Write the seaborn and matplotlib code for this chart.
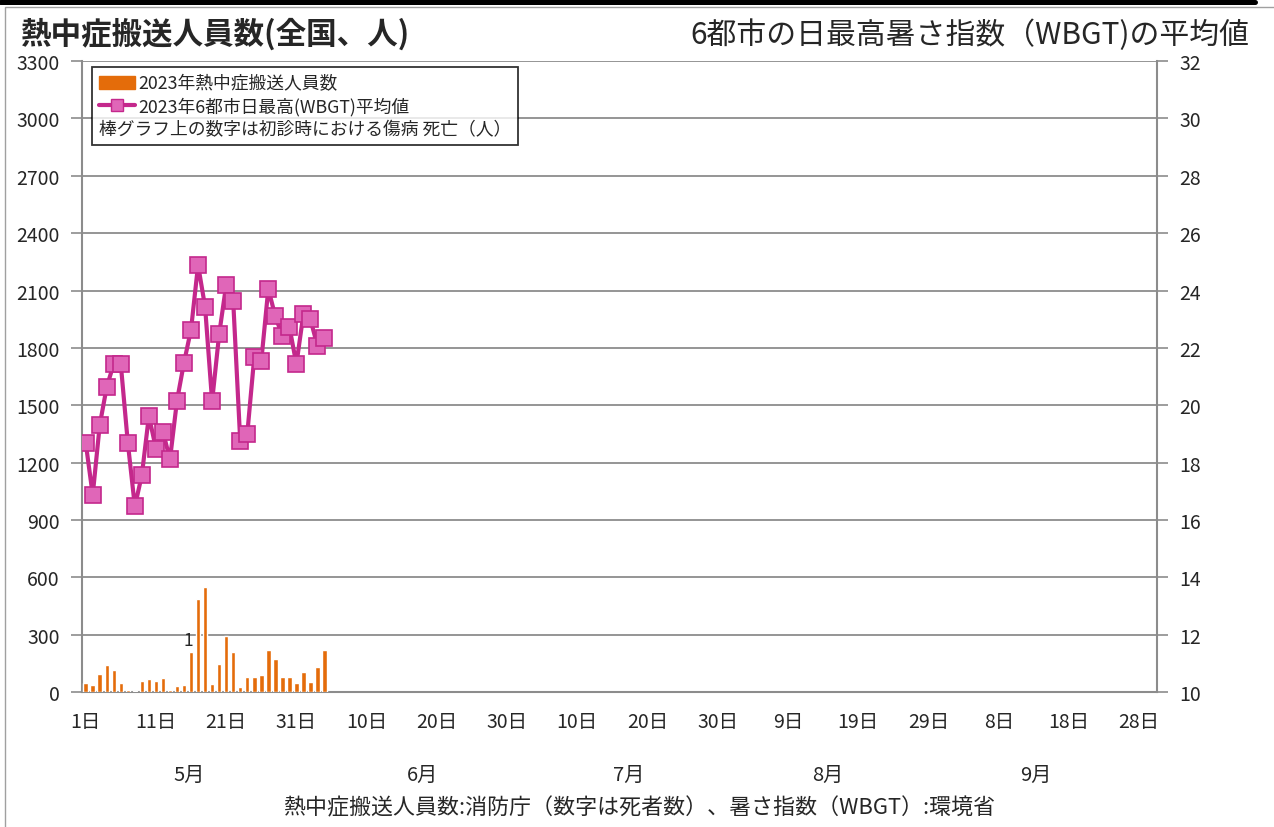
import numpy as np
import pandas as pd
import matplotlib
matplotlib.use("Agg")
import matplotlib.pyplot as plt
import seaborn as sns
from matplotlib.patches import Patch, Rectangle
from matplotlib.lines import Line2D

# daily values starting May 1 (data so far runs to Jun 4)
patients = [46, 37, 93, 142, 116, 46, 11, 7, 58, 69, 58, 72, 11, 32, 37,
            211, 487, 547, 40, 149, 295, 207, 28, 81, 77, 90, 221, 174, 77,
            81, 46, 107, 51, 130, 221]
wbgt = [18.70, 16.87, 19.31, 20.64, 21.45, 21.43, 18.69, 16.47, 17.57, 19.63,
        18.49, 19.08, 18.11, 20.16, 21.49, 22.64, 24.89, 23.43, 20.14, 22.47,
        24.19, 23.65, 18.77, 18.98, 21.68, 21.54, 24.06, 23.10, 22.42, 22.74,
        21.43, 23.18, 22.99, 22.07, 22.35]
deaths = {15: 1}  # day index -> deaths shown above bar
n_days = 153  # May 1 - Sep 30
day_labels = ["1日", "11日", "21日", "31日", "10日", "20日", "30日", "10日",
              "20日", "30日", "9日", "19日", "29日", "8日", "18日", "28日"]
months = ["5月", "6月", "7月", "8月", "9月"]
month_pos = [14.7, 47.9, 77.3, 105.6, 135.3]  # where the month names sit

BAR_C = "#E46C0A"
LINE_C = "#C4288C"
MARK_C = "#E066B8"
GRID_C = "#8C8C8C"

sns.set_style("white")
plt.rcParams["font.family"] = ["Noto Sans CJK JP", "DejaVu Sans"]

df = pd.DataFrame({"day": np.arange(len(patients)), "patients": patients, "wbgt": wbgt})

fig = plt.figure(figsize=(12.74, 8.28), dpi=100)
ax = fig.add_axes([0.0645, 0.163, 0.8435, 0.762])

sns.barplot(data=df, x="day", y="patients", native_scale=True, width=0.64,
            color=BAR_C, saturation=1, ax=ax, zorder=3)

for i, d in deaths.items():
    ax.annotate(str(d), (df["day"][i], df["patients"][i]), xytext=(-2, 2),
                textcoords="offset points", ha="center", va="bottom", fontsize=12.5)

ax.set_xlim(-0.5, n_days - 0.5)
ax.set_ylim(0, 3300)
ax.set_yticks(np.arange(0, 3301, 300))
ax.yaxis.grid(True, color=GRID_C, lw=1.3, zorder=0)
ax.set_axisbelow(True)
ax.set_xticks(np.arange(0, n_days, 10))
ax.set_xticklabels(day_labels)
ax.set_xticks(np.arange(-0.5, n_days, 5), minor=True)
ax.tick_params(axis="x", which="major", length=0, pad=14, labelsize=14)
ax.tick_params(axis="x", which="minor", direction="inout", length=12, width=1.2, color=GRID_C)
ax.tick_params(axis="y", which="major", left=True, length=8, width=1.2, color=GRID_C,
               pad=8, labelsize=14)
ax.set_xlabel("")
ax.set_ylabel("")
for s in ["top", "right"]:
    ax.spines[s].set_visible(False)
for s in ["left", "bottom"]:
    ax.spines[s].set_color(GRID_C)
    ax.spines[s].set_linewidth(1.5)

ax2 = ax.twinx()
sns.lineplot(data=df, x="day", y="wbgt", ax=ax2, color=LINE_C, lw=3, marker="s",
             markersize=11.5, markerfacecolor=MARK_C, markeredgecolor=LINE_C,
             markeredgewidth=1.2)
ax2.set_ylim(10, 32)
ax2.set_yticks(np.arange(10, 33, 2))
ax2.set_ylabel("")
ax2.tick_params(axis="y", right=True, length=8, width=1.2, color=GRID_C, pad=8, labelsize=14)
for s in ["top", "left", "bottom"]:
    ax2.spines[s].set_visible(False)
ax2.spines["right"].set_color(GRID_C)
ax2.spines["right"].set_linewidth(1.5)

# legend: third line is plain text without a handle
handles = [Patch(color=BAR_C),
           Line2D([], [], color=LINE_C, lw=3, marker="s", markersize=9,
                  markerfacecolor=MARK_C, markeredgecolor=LINE_C),
           Line2D([], [], color="none")]
labels = ["2023年熱中症搬送人員数", "2023年6都市日最高(WBGT)平均値",
          "棒グラフ上の数字は初診時における傷病 死亡（人）"]
leg = ax2.legend(handles, labels, loc="upper left", bbox_to_anchor=(0.009, 0.99),
                 borderaxespad=0, fontsize=12.8, frameon=True, fancybox=False,
                 edgecolor="black", handlelength=2.0, handletextpad=0.2,
                 labelspacing=0.25, borderpad=0.4)
leg.get_frame().set_linewidth(1.3)
try:
    rows = leg._legend_handle_box.get_children()[0].get_children()
    rows[2]._children = [rows[2].get_children()[1]]
except Exception:
    pass

for m, p in zip(months, month_pos):
    ax.text(p, -0.13, m, transform=ax.get_xaxis_transform(), ha="center",
            va="center", fontsize=14.5)

fig.text(0.016, 0.958, "熱中症搬送人員数(全国、人)", fontsize=22, fontweight="bold",
         ha="left", va="center")
fig.text(0.981, 0.958, "6都市の日最高暑さ指数（WBGT)の平均値", fontsize=21.5,
         ha="right", va="center")
fig.text(0.502, 0.024, "熱中症搬送人員数:消防庁（数字は死者数）、暑さ指数（WBGT）:環境省",
         fontsize=15.8, ha="center", va="center")

fig.add_artist(Rectangle((5 / 1274, -0.01), 1.0, 1 - 8 / 828 + 0.01,
                         transform=fig.transFigure, fill=False, ec="#A0A0A0", lw=1))
fig.add_artist(Line2D([0, 0.985], [1 - 2.5 / 828] * 2, lw=3.6, color="black",
                      transform=fig.transFigure))

fig.savefig("out.png", dpi=100)
